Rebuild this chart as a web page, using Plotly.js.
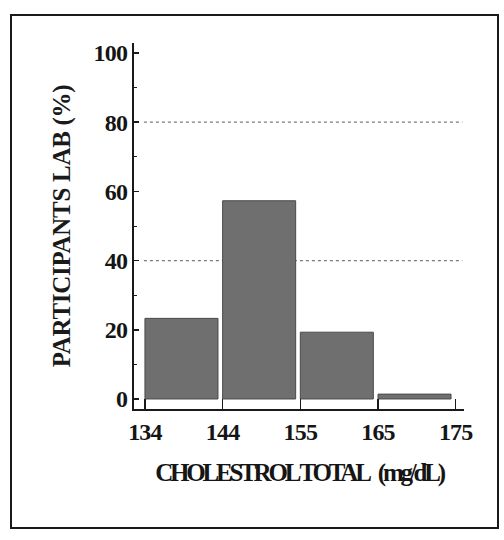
<!DOCTYPE html>
<html>
<head>
<meta charset="utf-8">
<script src="https://cdn.plot.ly/plotly-3.0.1.min.js"></script>
<style>
  html, body { margin: 0; padding: 0; background: #ffffff; }
  #frame { position: absolute; left: 10px; top: 14px; width: 489px; height: 515px; border: 2.5px solid #1a1a1a; box-sizing: border-box; pointer-events: none; z-index: 2; }
  #chart { position: absolute; left: 0; top: 0; width: 504px; height: 540px; }
  .g-xtitle text { letter-spacing: -3.2px; }
  .g-ytitle text { letter-spacing: -0.3px; }
  .xtick text, .ytick text { letter-spacing: -0.8px; }
</style>
</head>
<body>
<div id="chart"></div>
<div id="frame"></div>
<script>
// Bin edges shown as tick labels (mg/dL)
const binEdges = ['134', '144', '155', '165', '175'];
// Share of participants in each bin (%)
const binShares = [23.3, 57.3, 19.3, 1.4];
// Dotted reference lines
const refLines = [40, 80];

const barStarts = binShares.map((_, i) => i);
const edgePositions = binEdges.map((_, i) => i);

const trace = {
  type: 'bar',
  x: barStarts,
  y: binShares,
  width: 0.94,
  offset: 0,
  marker: { color: '#6f6f6f', line: { color: '#4a4a4a', width: 1 } },
  hoverinfo: 'y'
};

const serif = 'Liberation Serif, Times New Roman, serif';

const layout = {
  width: 504,
  height: 540,
  margin: { l: 134, r: 40, t: 43, b: 131 },
  paper_bgcolor: '#ffffff',
  plot_bgcolor: '#ffffff',
  showlegend: false,
  bargap: 0,
  xaxis: {
    range: [-0.141, 4.107],
    tickmode: 'array',
    tickvals: edgePositions,
    ticktext: binEdges,
    ticks: 'inside',
    ticklen: 10,
    tickwidth: 1.5,
    tickcolor: '#1a1a1a',
    showline: true,
    linecolor: '#1a1a1a',
    linewidth: 2,
    showgrid: false,
    zeroline: false,
    tickfont: { family: serif, size: 24, color: '#151515', weight: 'bold' },
    title: {
      text: 'CHOLESTROL TOTAL\u00A0\u00A0\u00A0(mg/dL)',
      font: { family: serif, size: 25, color: '#151515', weight: 'bold' },
      standoff: 20
    }
  },
  yaxis: {
    range: [-2.9, 102.9],
    tickmode: 'array',
    tickvals: [0, 20, 40, 60, 80, 100],
    ticks: 'inside',
    ticklen: 5,
    tickwidth: 1.5,
    tickcolor: '#1a1a1a',
    minor: { tickvals: [10, 30, 50, 70, 90], ticks: 'inside', ticklen: 3, tickcolor: '#1a1a1a', tickwidth: 1 },
    showline: true,
    linecolor: '#1a1a1a',
    linewidth: 2,
    showgrid: false,
    zeroline: false,
    tickfont: { family: serif, size: 24, color: '#151515', weight: 'bold' },
    title: {
      text: 'PARTICIPANTS LAB (%)',
      font: { family: serif, size: 25, color: '#1a1a1a', weight: 'bold' },
      standoff: 16
    }
  },
  shapes: refLines.map(v => ({
    type: 'line', layer: 'below',
    xref: 'paper', x0: 0.03, x1: 0.995,
    yref: 'y', y0: v, y1: v,
    line: { color: '#7a7a7a', width: 1.2, dash: 'dot' }
  }))
};

Plotly.newPlot('chart', [trace], layout, { displayModeBar: false, staticPlot: true });
</script>
</body>
</html>
